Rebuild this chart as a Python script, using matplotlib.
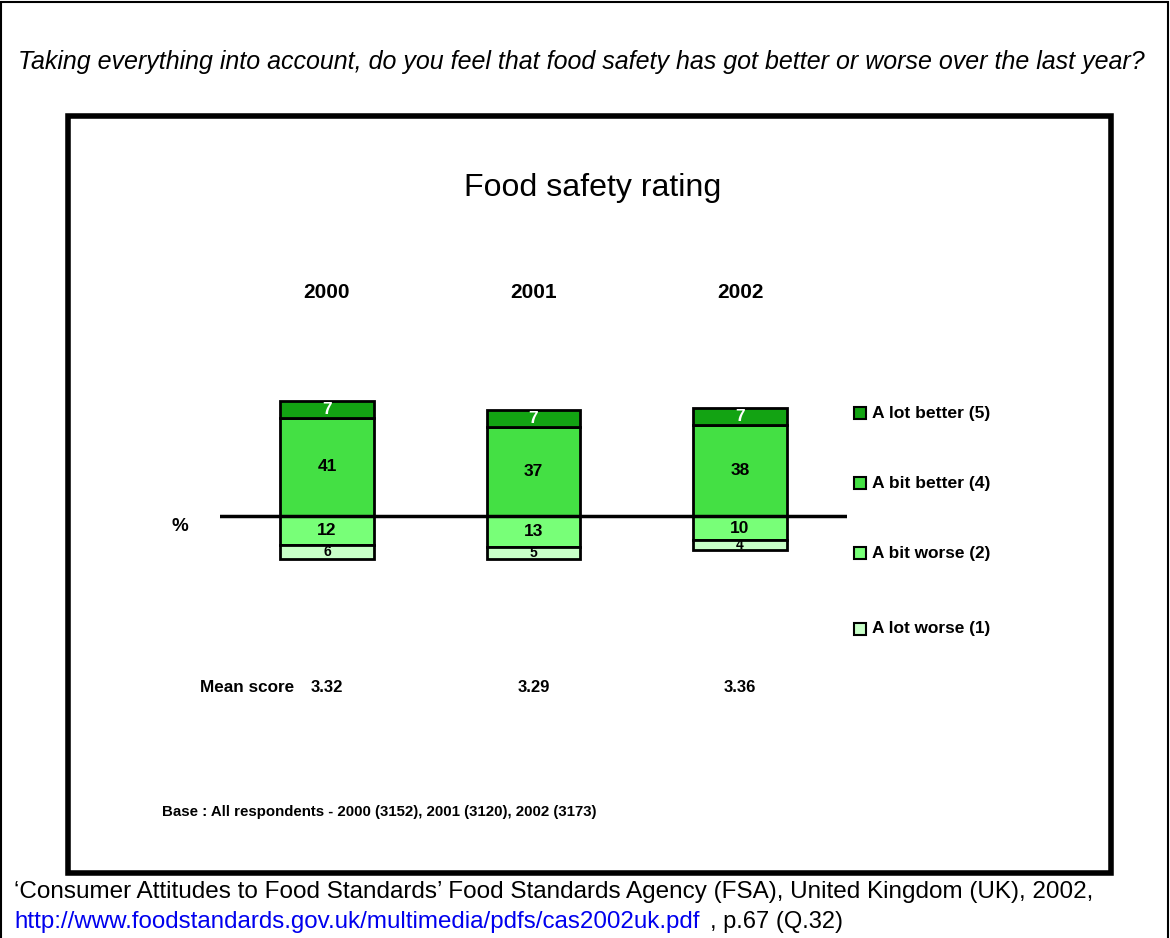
import numpy as np
import matplotlib.pyplot as plt
from matplotlib.patches import Rectangle

years = ['2000', '2001', '2002']
lot_better = [7, 7, 7]
bit_better = [41, 37, 38]
bit_worse = [12, 13, 10]
lot_worse = [6, 5, 4]
mean_scores = ['3.32', '3.29', '3.36']
legend_labels = ['A lot better (5)', 'A bit better (4)', 'A bit worse (2)', 'A lot worse (1)']
colors = ['#13a313', '#44e044', '#78ff78', '#c8ffc8']

W, H = 1170, 938
fig = plt.figure(figsize=(W / 100, H / 100), dpi=100)


def px(x, y):
    return x / W, 1 - y / H


def box(x0, y0, x1, y1, lw):
    fx0, fy1 = px(x0, y0)
    fx1, fy0 = px(x1, y1)
    fig.add_artist(Rectangle((fx0, fy0), fx1 - fx0, fy1 - fy0, transform=fig.transFigure,
                             fill=False, ec='black', lw=lw, clip_on=False))


def fit(t, width_px):
    # shrink a text so it spans the given width (no narrow font installed)
    r = fig.canvas.get_renderer()
    w = t.get_window_extent(r).width
    t.set_fontsize(t.get_fontsize() * width_px / w)
    return t


arial = ['Liberation Sans', 'DejaVu Sans']

# page border and chart frame
box(1, 2, 1168, 945, 1.5)
box(68, 116, 1111, 873, 4)

fit(fig.text(*px(18, 62), 'Taking everything into account, do you feel that food safety has got better or worse over the last year?',
             family=arial, style='italic', fontsize=16, va='center', ha='left'), 1127)
fit(fig.text(*px(593, 188), 'Food safety rating', family=arial, fontsize=18, va='center', ha='center'), 257)

# bar axes: zero line at y=516 px, 2.4 px per percent
ax_l, ax_r, ax_t, ax_b = 220, 847, 380, 580
ax = fig.add_axes([ax_l / W, 1 - ax_b / H, (ax_r - ax_l) / W, (ax_b - ax_t) / H])
ax.set_xlim(-0.518, 2.518)
ax.set_ylim(-(ax_b - 516) / 2.4, (516 - ax_t) / 2.4)
ax.axis('off')

x = np.arange(len(years))
bw = 0.455
kw = dict(width=bw, edgecolor='black', linewidth=2)
ax.bar(x, bit_better, color=colors[1], **kw)
ax.bar(x, lot_better, bottom=bit_better, color=colors[0], **kw)
ax.bar(x, [-v for v in bit_worse], color=colors[2], **kw)
ax.bar(x, [-v for v in lot_worse], bottom=[-v for v in bit_worse], color=colors[3], **kw)
ax.axhline(0, color='black', lw=2.5)

tk = dict(ha='center', va='center', fontsize=12.5, fontweight='bold', family=arial)
for i in range(len(years)):
    ax.text(x[i], bit_better[i] + lot_better[i] / 2, str(lot_better[i]), color='white', **tk)
    ax.text(x[i], bit_better[i] / 2, str(bit_better[i]), color='black', **tk)
    ax.text(x[i], -bit_worse[i] / 2, str(bit_worse[i]), color='black', **tk)
    ax.text(x[i], -bit_worse[i] - lot_worse[i] / 2, str(lot_worse[i]), color='black',
            ha='center', va='center', fontsize=10, fontweight='bold', family=arial)
    ax.annotate(years[i], (x[i], 0), xycoords=('data', 'figure fraction'),
                xytext=(0, 1 - 293 / H), textcoords=('offset points', 'figure fraction'),
                ha='center', va='center', fontsize=15, fontweight='bold', family=arial)
    ax.annotate(mean_scores[i], (x[i], 0), xycoords=('data', 'figure fraction'),
                xytext=(0, 1 - 687 / H), textcoords=('offset points', 'figure fraction'),
                ha='center', va='center', fontsize=12, fontweight='bold', family=arial)

fit(fig.text(*px(200, 687), 'Mean score', family=arial, fontsize=12, fontweight='bold', va='center', ha='left'), 94)
fig.text(*px(180, 526), '%', family=arial, fontsize=13.5, fontweight='bold', va='center', ha='center')

# legend
leg_y = [413, 483, 553, 629]
for lab, c, ly in zip(legend_labels, colors, leg_y):
    fx, fy = px(854, ly + 6)
    fig.add_artist(Rectangle((fx, fy), 12 / W, 12 / H, transform=fig.transFigure,
                             fc=c, ec='black', lw=1.5))
    fit(fig.text(*px(872, ly), lab, family=arial, fontsize=12, fontweight='bold', va='center', ha='left'), 118)

fit(fig.text(*px(162, 812), 'Base : All respondents - 2000 (3152), 2001 (3120), 2002 (3173)',
             family=arial, fontsize=9, fontweight='bold', va='center', ha='left'), 437)

fit(fig.text(*px(14, 892), '\u2018Consumer Attitudes to Food Standards\u2019 Food Standards Agency (FSA), United Kingdom (UK), 2002,',
             family=arial, fontsize=15, va='center', ha='left'), 1086)
fit(fig.text(*px(14, 922), 'http://www.foodstandards.gov.uk/multimedia/pdfs/cas2002uk.pdf',
             family=arial, fontsize=15, va='center', ha='left', color='#0000ee'), 688)
fit(fig.text(*px(710, 922), ', p.67 (Q.32)', family=arial, fontsize=15, va='center', ha='left'), 132)

fig.savefig('out.png', dpi=100)
